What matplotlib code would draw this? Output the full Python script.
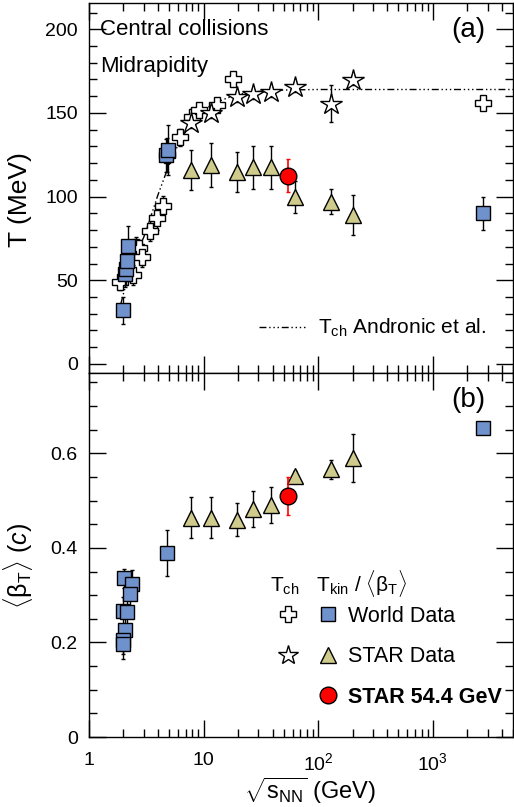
import numpy as np
import matplotlib
matplotlib.use("Agg")
from matplotlib import pyplot as plt
from matplotlib.ticker import FixedLocator, FixedFormatter, MultipleLocator, LogLocator, NullFormatter
from matplotlib.legend_handler import HandlerTuple
from matplotlib.lines import Line2D

plt.rcParams.update({
    'font.family': 'Liberation Sans',
    'font.size': 14,
    'mathtext.fontset': 'custom',
    'mathtext.rm': 'Liberation Sans',
    'mathtext.it': 'Liberation Sans:italic',
    'mathtext.bf': 'Liberation Sans:bold',
})

# ---- (a) temperatures ----
# chemical freeze-out, world data (open crosses)
tch_w_x = [1.86, 2.41, 2.6, 2.75, 2.9, 3.4, 3.9, 4.4, 4.77, 6.2, 8.0, 9.2, 13.0, 17.9, 2760]
tch_w_y = [49, 53, 70, 69, 64, 79.5, 87, 94.6, 125, 135.5, 147.6, 151.8, 155, 170.5, 156]
tch_w_e = [5, 6, 6, 5, 6, 6, 7, 6, 10, 5, 5, 4, 4, 3, 3]
# chemical freeze-out, STAR (open stars)
tch_s_x = [7.7, 11.5, 19.6, 27, 39, 62.4, 130, 200]
tch_s_y = [144, 150, 159.6, 161.4, 162.6, 165.5, 155.4, 169.5]
tch_s_e = [3, 3, 3, 3, 3, 3, 11, 3]
# kinetic freeze-out, world data (blue squares)
tkin_w_x = [1.97, 2.05, 2.1, 2.15, 2.2, 4.7, 4.85, 2760]
tkin_w_y = [32, 54, 57, 61.5, 70.5, 124.7, 128, 90]
tkin_w_e = [8, 8, 10, 8, 12, 10, 15, 10]
# kinetic freeze-out, STAR BES (triangles)
star_x = [7.7, 11.5, 19.6, 27, 39, 62.4, 130, 200]
tkin_s_y = [116, 119, 114.5, 117.5, 117.5, 100, 97, 89]
tkin_s_e = [12, 13, 12, 13, 13, 9.5, 7.5, 12]
# STAR 54.4 GeV
new_x = [54.4]
tkin_new_y = [112.6]
tkin_new_e = [10]
# Andronic et al. curve
andr_x = [1.9, 2.0, 2.2, 2.5, 3.0, 3.5, 4.0, 5.0, 6.0, 7.0, 8.0, 10, 13, 17, 22, 30, 50, 100, 300, 1000, 5000]
andr_y = [36, 42, 52, 64, 75.5, 89, 101, 119, 131, 139, 144, 151.7, 156.5, 159.5, 161.5, 162.8, 163.7, 164, 164, 164, 164]

# ---- (b) radial flow ----
beta_w_x = [2.01, 2.37, 2.27, 1.98, 2.14, 2.06, 1.99, 2.0, 4.77, 2760]
beta_w_y = [0.336, 0.323, 0.302, 0.266, 0.264, 0.226, 0.206, 0.196, 0.389, 0.653]
beta_w_e = [0.02, 0.03, 0.03, 0.03, 0.03, 0.03, 0.03, 0.03, 0.049, 0.012]
beta_s_y = [0.464, 0.464, 0.46, 0.483, 0.491, 0.553, 0.566, 0.591]
beta_s_e = [0.043, 0.043, 0.034, 0.038, 0.038, 0.01, 0.02, 0.051]
beta_new_y = [0.51]
beta_new_e = [0.04]

blue = '#7092CC'
khaki = '#CFCB8C'

fig = plt.figure(figsize=(5.14, 8.07), dpi=100)
ax1 = fig.add_axes([0.173, 0.5378, 0.825, 0.4585])
ax2 = fig.add_axes([0.173, 0.0867, 0.825, 0.4511])

eb = dict(ls='none', ecolor='black', elinewidth=1, capsize=1.5, capthick=1, mew=1, mec='black')

# top panel
ax1.plot(andr_x, andr_y, color='black', lw=1, ls=(0, (5, 2, 1, 2, 1, 2, 1, 2)),
         label=r'T$_{\rm ch}$ Andronic et al.', zorder=1)
ax1.errorbar(tch_w_x, tch_w_y, yerr=tch_w_e, marker='P', ms=12, mfc='white', **eb, zorder=2)
ax1.errorbar(tch_s_x, tch_s_y, yerr=tch_s_e, marker='*', ms=16, mfc='white', **eb, zorder=2)
ax1.errorbar(tkin_w_x, tkin_w_y, yerr=tkin_w_e, marker='s', ms=10, mfc=blue, **eb, zorder=3)
ax1.errorbar(star_x, tkin_s_y, yerr=tkin_s_e, marker='^', ms=12, mfc=khaki, **eb, zorder=3)
ax1.errorbar(new_x, tkin_new_y, yerr=tkin_new_e, marker='o', ms=12, mfc='red', ls='none',
             ecolor='red', elinewidth=1.2, capsize=1.5, mec='black', zorder=4)

# bottom panel
ax2.errorbar(beta_w_x, beta_w_y, yerr=beta_w_e, marker='s', ms=10, mfc=blue, **eb, zorder=3)
ax2.errorbar(star_x, beta_s_y, yerr=beta_s_e, marker='^', ms=12, mfc=khaki, **eb, zorder=3)
ax2.errorbar(new_x, beta_new_y, yerr=beta_new_e, marker='o', ms=12, mfc='red', ls='none',
             ecolor='red', elinewidth=1.2, capsize=1.5, mec='black', zorder=4)

for ax in (ax1, ax2):
    ax.set_xscale('log')
    ax.set_xlim(1, 5000)
    ax.xaxis.set_major_locator(FixedLocator([1, 10, 100, 1000]))
    ax.xaxis.set_minor_locator(LogLocator(base=10, subs=np.arange(2, 10)))
    ax.xaxis.set_minor_formatter(NullFormatter())
    ax.tick_params(which='both', direction='in', top=True, right=True, width=1)
    ax.tick_params(which='major', length=12, labelsize=14, pad=8)
    ax.tick_params(which='minor', length=6)
    for s in ax.spines.values():
        s.set_linewidth(1)
ax2.tick_params(axis='x', which='major', pad=11)

ax1.xaxis.set_major_formatter(NullFormatter())
ax2.xaxis.set_major_formatter(FixedFormatter(['1', '10', r'10$^{2}$', r'10$^{3}$']))

ax1.set_ylim(-5.4, 215.7)
ax1.yaxis.set_major_locator(MultipleLocator(50))
ax1.yaxis.set_minor_locator(MultipleLocator(10))
ax2.set_ylim(0, 0.77)
ax2.yaxis.set_major_locator(FixedLocator([0, 0.2, 0.4, 0.6]))
ax2.yaxis.set_major_formatter(FixedFormatter(['0', '0.2', '0.4', '0.6']))
ax2.yaxis.set_minor_locator(MultipleLocator(0.05))

ax1.set_ylabel('T (MeV)', fontsize=19)
ax1.yaxis.set_label_coords(-0.135, 0.47)
ax2.set_ylabel(r'$\langle\mathrm{\beta}_{\rm T}\rangle$ ($c$)', fontsize=18)
ax2.yaxis.set_label_coords(-0.127, 0.47)
ax2.set_xlabel(r'$\sqrt{\mathrm{s}_{\rm NN}}$ (GeV)', fontsize=17)
ax2.xaxis.set_label_coords(0.52, -0.105)

ax1.text(0.026, 0.927, 'Central collisions', transform=ax1.transAxes, va='center', fontsize=16)
ax1.text(0.026, 0.827, 'Midrapidity', transform=ax1.transAxes, va='center', fontsize=16)
ax1.text(0.895, 0.927, '(a)', transform=ax1.transAxes, va='center', ha='center', fontsize=20)
ax2.text(0.895, 0.926, '(b)', transform=ax2.transAxes, va='center', ha='center', fontsize=20)

ax1.legend(loc='lower right', bbox_to_anchor=(0.98, 0.04), frameon=False, fontsize=15,
           handlelength=2.2, handletextpad=0.6)

# bottom legend: two marker columns
h_cross = Line2D([], [], ls='none', marker='P', ms=12, mfc='white', mec='black')
h_star = Line2D([], [], ls='none', marker='*', ms=15, mfc='white', mec='black')
h_sq = Line2D([], [], ls='none', marker='s', ms=10, mfc=blue, mec='black')
h_tri = Line2D([], [], ls='none', marker='^', ms=12, mfc=khaki, mec='black')
h_none = Line2D([], [], ls='none', marker='None')
h_red = Line2D([], [], ls='none', marker='o', ms=12, mfc='red', mec='black')
leg = ax2.legend([(h_cross, h_sq), (h_star, h_tri), (h_none, h_red)],
                 ['World Data', 'STAR Data', 'STAR 54.4 GeV'],
                 handler_map={tuple: HandlerTuple(ndivide=None, pad=0.95)},
                 loc='upper left', bbox_to_anchor=(0.42, 0.39), frameon=False, fontsize=15.5,
                 handlelength=2.8, handletextpad=0.45, labelspacing=0.9, borderpad=0)
leg.get_texts()[2].set_fontweight('bold')
ax2.text(0.427, 0.423, r'T$_{\rm ch}$   T$_{\rm kin}$ / $\langle\mathrm{\beta}_{\rm T}\rangle$',
         transform=ax2.transAxes, va='center', fontsize=15)

fig.savefig('out.png', dpi=100)
